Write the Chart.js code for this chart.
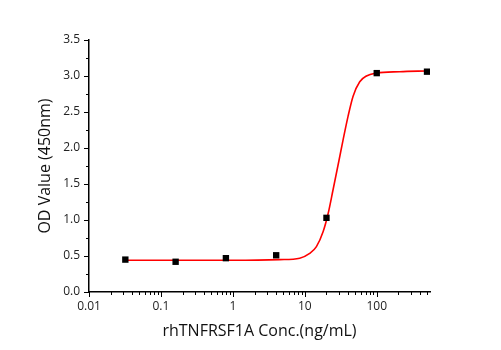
<!DOCTYPE html>
<html>
<head>
<meta charset="utf-8">
<script src="https://cdn.jsdelivr.net/npm/chart.js@4.4.0/dist/chart.umd.min.js"></script>
<style>
  html, body { margin: 0; padding: 0; background: #fff; }
  #wrap { width: 501px; height: 350px; }
</style>
</head>
<body>
<div id="wrap"><canvas id="chart" width="501" height="350"></canvas></div>
<script>
// measured points (concentration in ng/mL, OD at 450nm)
const conc = [0.032, 0.16, 0.8, 4, 20, 100, 500];
const od = [0.45, 0.42, 0.47, 0.51, 1.03, 3.04, 3.06];

// fitted curve
const fitConc = [0.032, 1, 4.5, 8.5, 11.7, 14.5, 18, 21.1, 24.7, 29.9, 34, 39.9, 46.9, 58, 71.9, 99, 208, 500];
const fitOd = [0.44, 0.44, 0.45, 0.47, 0.535, 0.63, 0.84, 1.09, 1.42, 1.83, 2.11, 2.44, 2.72, 2.92, 3.0, 3.04, 3.06, 3.07];

const decadeLabels = ["0.01", "0.1", "1", "10", "100"];
const yTicks = [0, 0.5, 1, 1.5, 2, 2.5, 3, 3.5];

const font = "'Open Sans', 'DejaVu Sans', sans-serif";

// draw outward tick marks (long on labelled ticks, short on minor ones)
const tickMarks = {
  id: "tickMarks",
  afterDraw: (chart) => {
    const { ctx, scales: { x, y } } = chart;
    ctx.save();
    ctx.strokeStyle = "#000";
    ctx.lineWidth = 1;
    const bottom = y.getPixelForValue(0);
    x.ticks.forEach((t) => {
      const sig = t.value / Math.pow(10, Math.floor(Math.log10(t.value) + 1e-9));
      if (Math.abs(sig - Math.round(sig)) > 1e-6) return;
      const px = Math.round(x.getPixelForValue(t.value)) + 0.5;
      const len = Math.abs(sig - 1) < 1e-6 ? 5 : 3;
      ctx.beginPath();
      ctx.moveTo(px, bottom);
      ctx.lineTo(px, bottom + len);
      ctx.stroke();
    });
    const left = x.getPixelForValue(0.01);
    for (let i = 0; i < yTicks.length; i++) {
      const vals = [yTicks[i]];
      if (i < yTicks.length - 1) vals.push((yTicks[i] + yTicks[i + 1]) / 2);
      vals.forEach((v, j) => {
        const py = Math.round(y.getPixelForValue(v)) + 0.5;
        ctx.beginPath();
        ctx.moveTo(left, py);
        ctx.lineTo(left - (j === 0 ? 5 : 3), py);
        ctx.stroke();
      });
    }
    ctx.restore();
  },
};

new Chart(document.getElementById("chart"), {
  data: {
    datasets: [
      {
        type: "scatter",
        data: conc.map((c, i) => ({ x: c, y: od[i] })),
        pointStyle: "rect",
        pointRadius: 4.5,
        pointBackgroundColor: "#000",
        pointBorderWidth: 0,
        order: 0,
      },
      {
        type: "line",
        data: fitConc.map((c, i) => ({ x: c, y: fitOd[i] })),
        borderColor: "#ff0000",
        borderWidth: 1.6,
        pointRadius: 0,
        cubicInterpolationMode: "monotone",
        fill: false,
        order: 1,
      },
    ],
  },
  options: {
    responsive: false,
    animation: false,
    layout: { padding: { top: 40, right: 71, left: 0, bottom: 0 } },
    plugins: {
      legend: { display: false },
      tooltip: { enabled: false },
    },
    scales: {
      x: {
        type: "logarithmic",
        min: 0.01,
        max: 550,
        border: { display: true, color: "#000", width: 1.5 },
        grid: { display: false, drawTicks: false },
        ticks: {
          autoSkip: false,
          maxRotation: 0,
          padding: 7,
          color: "#222",
          font: { family: font, size: 12 },
          callback: (v) => {
            const lbl = String(Number(v.toPrecision(6)));
            return decadeLabels.includes(lbl) ? lbl : "";
          },
        },
        title: {
          display: true,
          text: "rhTNFRSF1A Conc.(ng/mL)",
          color: "#111",
          font: { family: font, size: 16 },
          padding: { top: 0, bottom: 9 },
        },
        afterFit: (scale) => { scale.height = 58; },
      },
      y: {
        min: 0,
        max: 3.5,
        border: { display: true, color: "#000", width: 1.5 },
        grid: { display: false, drawTicks: false },
        afterBuildTicks: (scale) => { scale.ticks = yTicks.map((v) => ({ value: v })); },
        ticks: {
          padding: 9,
          color: "#222",
          font: { family: font, size: 12 },
          callback: (v) => v.toFixed(1),
        },
        title: {
          display: true,
          text: "OD Value (450nm)",
          color: "#111",
          font: { family: font, size: 16 },
          padding: { top: 36, bottom: 0 },
        },
        afterFit: (scale) => { scale.width = 89; },
      },
    },
  },
  plugins: [tickMarks],
});
</script>
</body>
</html>
